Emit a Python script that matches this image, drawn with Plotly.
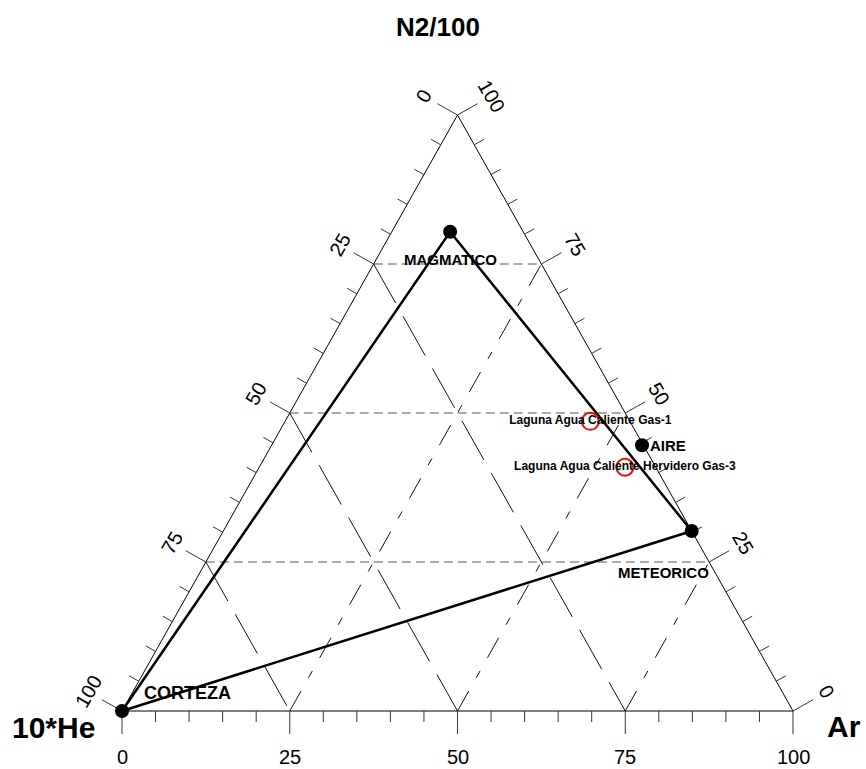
import math
import plotly.graph_objects as go

# ---- data: end members and gas samples (percent of 10*He, Ar, N2/100) ----
endmember_names = ["CORTEZA", "MAGMATICO", "AIRE", "METEORICO"]
endmember_he = [100.0, 10.9, 0.2, 0.0]
endmember_ar = [0.0, 8.7, 55.2, 69.8]
endmember_n2 = [0.0, 80.4, 44.6, 30.2]

sample_names = ["Laguna Agua Caliente Gas-1", "Laguna Agua Caliente Hervidero Gas-3"]
sample_he = [5.9, 4.6]
sample_ar = [45.5, 54.5]
sample_n2 = [48.6, 40.9]

# mixing triangle joining the crustal, magmatic and meteoric end members
mixing_path = ["CORTEZA", "MAGMATICO", "METEORICO", "CORTEZA"]

major_ticks = [0, 25, 50, 75, 100]
minor_ticks = list(range(0, 101, 5))
grid_levels = [25, 50, 75]

# ---- page geometry ----
W, H = 866, 769
ORIGIN_PX = (122, 711)        # pixel position of the 10*He corner
BASE_PX, HEIGHT_PX = 671, 596  # triangle base width and height in pixels
kx, ky = BASE_PX / 100.0, HEIGHT_PX / 100.0

FONT = "Liberation Sans, Arial, sans-serif"


def to_xy(he, ar, n2):
    """Ternary (10*He, Ar, N2/100) -> plane coordinates."""
    s = he + ar + n2
    ar, n2 = 100.0 * ar / s, 100.0 * n2 / s
    return ar + n2 / 2.0, n2


# outward unit normals of the three sides (pixel space, x right / y up)
edge_len = math.hypot(BASE_PX / 2.0, HEIGHT_PX)
n_left = (-HEIGHT_PX / edge_len, (BASE_PX / 2.0) / edge_len)
n_right = (HEIGHT_PX / edge_len, (BASE_PX / 2.0) / edge_len)
n_bottom = (0.0, -1.0)


def offset(pt, normal, length):
    return (pt[0] + normal[0] * length / kx, pt[1] + normal[1] * length / ky)


def seg_trace(segs, color, width, dash="solid"):
    xs, ys = [], []
    for a, b in segs:
        xs += [a[0], b[0], None]
        ys += [a[1], b[1], None]
    return go.Scatter(x=xs, y=ys, mode="lines", hoverinfo="skip", showlegend=False,
                      line=dict(color=color, width=width, dash=dash))


fig = go.Figure()

# ---- grid lines ----
n2_lines = [(to_xy(100 - v, 0, v), to_xy(0, 100 - v, v)) for v in grid_levels]
he_lines = [(to_xy(v, 0, 100 - v), to_xy(v, 100 - v, 0)) for v in grid_levels]
ar_lines = [(to_xy(100 - v, v, 0), to_xy(0, v, 100 - v)) for v in grid_levels]
fig.add_trace(seg_trace(n2_lines, "#555555", 1, "9px,5px"))
fig.add_trace(seg_trace(he_lines, "#111111", 1, "45px,15px"))
fig.add_trace(seg_trace(ar_lines, "#111111", 1, "23px,15px,8px,15px"))

# ---- triangle frame ----
corners = [to_xy(100, 0, 0), to_xy(0, 100, 0), to_xy(0, 0, 100), to_xy(100, 0, 0)]
fig.add_trace(go.Scatter(x=[c[0] for c in corners], y=[c[1] for c in corners],
                         mode="lines", line=dict(color="black", width=1),
                         hoverinfo="skip", showlegend=False))

# ---- tick marks ----
tick_segs = []
for v in minor_ticks:
    L = 23 if v in major_ticks else 11
    p = to_xy(v, 0, 100 - v)
    tick_segs.append((p, offset(p, n_left, L)))
    p = to_xy(100 - v, v, 0)
    tick_segs.append((p, offset(p, n_bottom, L)))
    p = to_xy(0, 100 - v, v)
    tick_segs.append((p, offset(p, n_right, L)))
fig.add_trace(seg_trace(tick_segs, "#333333", 1))

# ---- mixing triangle ----
idx = {n: i for i, n in enumerate(endmember_names)}
path_xy = [to_xy(endmember_he[idx[n]], endmember_ar[idx[n]], endmember_n2[idx[n]]) for n in mixing_path]
fig.add_trace(go.Scatter(x=[p[0] for p in path_xy], y=[p[1] for p in path_xy],
                         mode="lines", line=dict(color="black", width=2.5),
                         hoverinfo="skip", showlegend=False))

# ---- end members ----
em_xy = [to_xy(h, a, n) for h, a, n in zip(endmember_he, endmember_ar, endmember_n2)]
fig.add_trace(go.Scatter(x=[p[0] for p in em_xy], y=[p[1] for p in em_xy], mode="markers",
                         marker=dict(color="black", size=14),
                         hoverinfo="text", text=endmember_names, showlegend=False))

# ---- gas samples ----
s_xy = [to_xy(h, a, n) for h, a, n in zip(sample_he, sample_ar, sample_n2)]
fig.add_trace(go.Scatter(x=[p[0] for p in s_xy], y=[p[1] for p in s_xy], mode="markers+text",
                         text=sample_names, textposition="middle center",
                         textfont=dict(family=FONT, size=12, color="black", weight="bold"),
                         marker=dict(color="rgba(0,0,0,0)", size=17,
                                     line=dict(color="#e81010", width=2)),
                         showlegend=False))

annotations = []


def label(pt, text, size, dx=0, dy=0, angle=0, xanchor="center", bold=False):
    annotations.append(dict(
        x=pt[0], y=pt[1], xref="x", yref="y", text=f"<b>{text}</b>" if bold else text,
        showarrow=False, xshift=dx, yshift=dy, textangle=angle,
        xanchor=xanchor, yanchor="middle",
        font=dict(family=FONT, size=size, color="black")))


# ---- tick labels ----
LBL = 39
for v in major_ticks:
    label(to_xy(v, 0, 100 - v), str(v), 20, n_left[0] * LBL, n_left[1] * LBL, angle=-60)
    label(to_xy(0, 100 - v, v), str(v), 20, n_right[0] * LBL, n_right[1] * LBL, angle=60)
    label(to_xy(100 - v, v, 0), str(v), 20, 0, -45.5)

# ---- end member labels ----
em_label_style = {
    "CORTEZA": dict(size=18, dx=20, dy=18.5, xanchor="left"),
    "MAGMATICO": dict(size=15, dx=0.5, dy=-27.5, xanchor="center"),
    "AIRE": dict(size=15, dx=6, dy=0, xanchor="left"),
    "METEORICO": dict(size=15, dx=-28, dy=-41, xanchor="center"),
}
for name, p in zip(endmember_names, em_xy):
    st = em_label_style[name]
    label(p, name, st["size"], st["dx"], st["dy"], xanchor=st["xanchor"], bold=True)

# ---- vertex titles ----
label(to_xy(100, 0, 0), "10*He", 30, -69, -16.5, bold=True)
label(to_xy(0, 100, 0), "Ar", 30, 51, -15, bold=True)
label(to_xy(0, 0, 100), "N2/100", 26, -20, 88, bold=True)

fig.update_layout(
    width=W, height=H,
    margin=dict(l=0, r=0, t=0, b=0),
    paper_bgcolor="white", plot_bgcolor="white",
    annotations=annotations,
    xaxis=dict(visible=False, range=[-ORIGIN_PX[0] / kx, (W - ORIGIN_PX[0]) / kx], fixedrange=True),
    yaxis=dict(visible=False, range=[-(H - ORIGIN_PX[1]) / ky, ORIGIN_PX[1] / ky], fixedrange=True),
    hovermode="closest",
)

fig.write_html("out.html")
